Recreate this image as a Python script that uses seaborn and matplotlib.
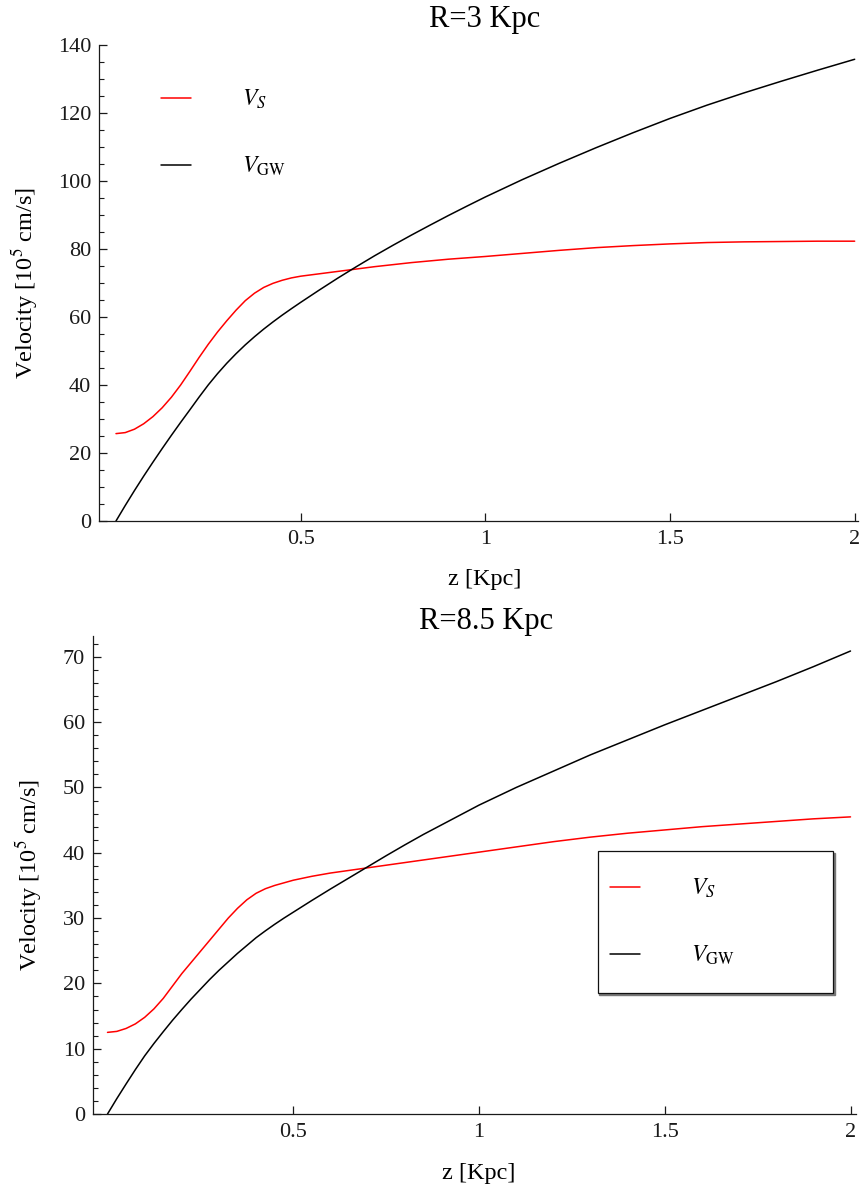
import matplotlib
matplotlib.use("Agg")
import matplotlib.pyplot as plt
import numpy as np
import pandas as pd
import seaborn as sns
from matplotlib.patches import Rectangle
from matplotlib.ticker import MultipleLocator, FixedLocator

# ---------------- data ----------------
z_kpc = [0, 0.025, 0.05, 0.075, 0.1, 0.125, 0.15, 0.175, 0.2, 0.225, 0.25, 0.275, 0.3,
         0.325, 0.35, 0.375, 0.4, 0.425, 0.45, 0.475, 0.5, 0.55, 0.6, 0.65, 0.7, 0.75,
         0.8, 0.85, 0.9, 0.95, 1.0, 1.1, 1.2, 1.3, 1.4, 1.5, 1.6, 1.7, 1.8, 1.9, 2.0]

vs_r3 = [25.7, 26.0, 27.0, 28.6, 30.7, 33.3, 36.4, 40.0, 44.0, 48.1, 52.0, 55.6, 58.9,
         62.0, 64.8, 67.0, 68.7, 69.9, 70.8, 71.5, 72.0, 72.7, 73.4, 74.1, 74.8, 75.4,
         76.0, 76.5, 77.0, 77.4, 77.8, 78.7, 79.6, 80.4, 81.0, 81.5, 81.9, 82.1, 82.2, 82.3, 82.3]
vgw_r3 = [0.0, 4.55, 8.95, 13.2, 17.3, 21.3, 25.2, 29.0, 32.7, 36.45, 40.05, 43.35, 46.4,
          49.2, 51.8, 54.2, 56.45, 58.55, 60.55, 62.45, 64.3, 67.9, 71.4, 74.75, 78.0, 81.1,
          84.1, 87.0, 89.85, 92.6, 95.3, 100.4, 105.2, 109.8, 114.2, 118.4, 122.3, 125.9,
          129.3, 132.6, 135.8]

vs_r85 = [12.5, 12.65, 13.1, 13.8, 14.8, 16.1, 17.7, 19.6, 21.5, 23.2, 24.9, 26.6, 28.3,
          30.0, 31.5, 32.8, 33.8, 34.5, 35.0, 35.4, 35.8, 36.4, 36.9, 37.3, 37.7, 38.1,
          38.5, 38.9, 39.3, 39.7, 40.1, 40.9, 41.7, 42.4, 43.0, 43.5, 44.0, 44.4, 44.8, 45.2, 45.5]
vgw_r85 = [0.0, 2.35, 4.6, 6.8, 8.9, 10.8, 12.6, 14.35, 16.0, 17.6, 19.1, 20.6, 22.0,
           23.3, 24.6, 25.8, 27.0, 28.05, 29.05, 30.0, 30.9, 32.7, 34.45, 36.15, 37.85, 39.55,
           41.2, 42.8, 44.3, 45.8, 47.3, 50.0, 52.5, 55.0, 57.3, 59.6, 61.8, 64.0, 66.2,
           68.5, 70.9]

titles = ["R=3 Kpc", "R=8.5 Kpc"]
series_names = [r"$V_S$", r"$V_{\mathrm{GW}}$"]
x_tick_values = [0.5, 1, 1.5, 2]
x_tick_labels = ["0.5", "1", "1.5", "2"]
x_label = "z [Kpc]"
y_label = r"Velocity [10$^5$ cm/s]"

# ---------------- style ----------------
sns.set_theme(style="ticks")
plt.rcParams["font.family"] = ["Liberation Serif", "DejaVu Serif"]
plt.rcParams["mathtext.fontset"] = "stix"
plt.rcParams["axes.edgecolor"] = "#1a1a1a"
plt.rcParams["xtick.color"] = "#1a1a1a"
plt.rcParams["ytick.color"] = "#1a1a1a"
plt.rcParams["text.color"] = "black"
plt.rcParams["axes.labelcolor"] = "black"

W, H = 866, 1192
fig = plt.figure(figsize=(W / 100, H / 100), dpi=100)

def px_rect(left, top, right, bottom):
    return [left / W, 1 - bottom / H, (right - left) / W, (bottom - top) / H]

ax1 = fig.add_axes(px_rect(99, 45, 858, 521))
ax2 = fig.add_axes(px_rect(92.5, 636, 856, 1114))

palette = {series_names[0]: "#ff0000", series_names[1]: "#000000"}

def make_df(vs, vgw):
    return pd.DataFrame({
        "z": list(z_kpc) * 2,
        "v": list(vs) + list(vgw),
        "series": [series_names[0]] * len(vs) + [series_names[1]] * len(vgw),
    })

panels = [
    (ax1, make_df(vs_r3, vgw_r3), (-0.046, 2.009), (0, 140), 20, 5),
    (ax2, make_df(vs_r85, vgw_r85), (-0.0404, 2.0148), (0, 73.2), 10, 2),
]

for ax, df, xl, yl, ymaj, ymin in panels:
    sns.lineplot(data=df, x="z", y="v", hue="series", hue_order=series_names,
                 palette=palette, estimator=None, sort=True, linewidth=1.1, ax=ax)
    for ln in ax.get_lines():
        ln.set_solid_joinstyle("round")
    ax.set_xlim(*xl)
    ax.set_ylim(*yl)
    for s in ["top", "right"]:
        ax.spines[s].set_visible(False)
    for s in ["left", "bottom"]:
        ax.spines[s].set_linewidth(0.9)
    ax.xaxis.set_major_locator(FixedLocator(x_tick_values))
    ax.set_xticklabels(x_tick_labels)
    ax.yaxis.set_major_locator(MultipleLocator(ymaj))
    ax.yaxis.set_minor_locator(MultipleLocator(ymin))
    ax.tick_params(axis="both", which="major", direction="in", length=6, width=0.9,
                   labelsize=16)
    ax.tick_params(axis="y", which="minor", direction="in", length=3.5, width=0.8)
    ax.tick_params(axis="y", which="major", pad=5.5)
    ax.tick_params(axis="x", which="major", pad=6.5)
    ax.set_xlabel(x_label, fontsize=17.5)
    ax.set_ylabel(y_label, fontsize=17.5)
    ax.grid(False)

ax1.xaxis.set_label_coords(0.5086, -0.1008)
ax2.xaxis.set_label_coords(0.506, -0.1025)
ax1.yaxis.set_label_coords(-0.0777, 0.5)
ax2.yaxis.set_label_coords(-0.0638, 0.5)

ax1.text(0.5086, 1 + 18 / 476, titles[0], transform=ax1.transAxes, ha="center",
         va="baseline", fontsize=22)
ax2.text(0.516, 1 + 7 / 478, titles[1], transform=ax2.transAxes, ha="center",
         va="baseline", fontsize=22)

# legends
leg_kw = dict(fontsize=17, frameon=False, handlelength=1.25, handletextpad=2.2,
              labelspacing=1.85, borderpad=0.0, borderaxespad=0.0, loc="upper left")
h1, l1 = ax1.get_legend_handles_labels()
ax1.legend(h1, l1, bbox_to_anchor=(161 / W, 1 - 88 / H), bbox_transform=fig.transFigure,
           **leg_kw)
h2, l2 = ax2.get_legend_handles_labels()
ax2.legend(h2, l2, bbox_to_anchor=(610 / W, 1 - 877 / H), bbox_transform=fig.transFigure,
           **leg_kw)

# frame of the lower legend (with slight shadow)
fx0, fy0, fx1, fy1 = 597.6, 851, 833, 993
fig.add_artist(Rectangle(((fx0 + 1.5) / W, 1 - (fy1 + 1.5) / H), (fx1 - fx0) / W,
                         (fy1 - fy0) / H, transform=fig.transFigure,
                         facecolor="#777777", edgecolor="#777777", linewidth=1.0, zorder=4))
fig.add_artist(Rectangle((fx0 / W, 1 - fy1 / H), (fx1 - fx0) / W, (fy1 - fy0) / H,
                         transform=fig.transFigure, facecolor="white",
                         edgecolor="#111111", linewidth=0.9, zorder=5))
ax2.get_legend().set_zorder(10)
ax2.set_zorder(6)
ax2.patch.set_alpha(0)

fig.savefig("out.png", dpi=100)
